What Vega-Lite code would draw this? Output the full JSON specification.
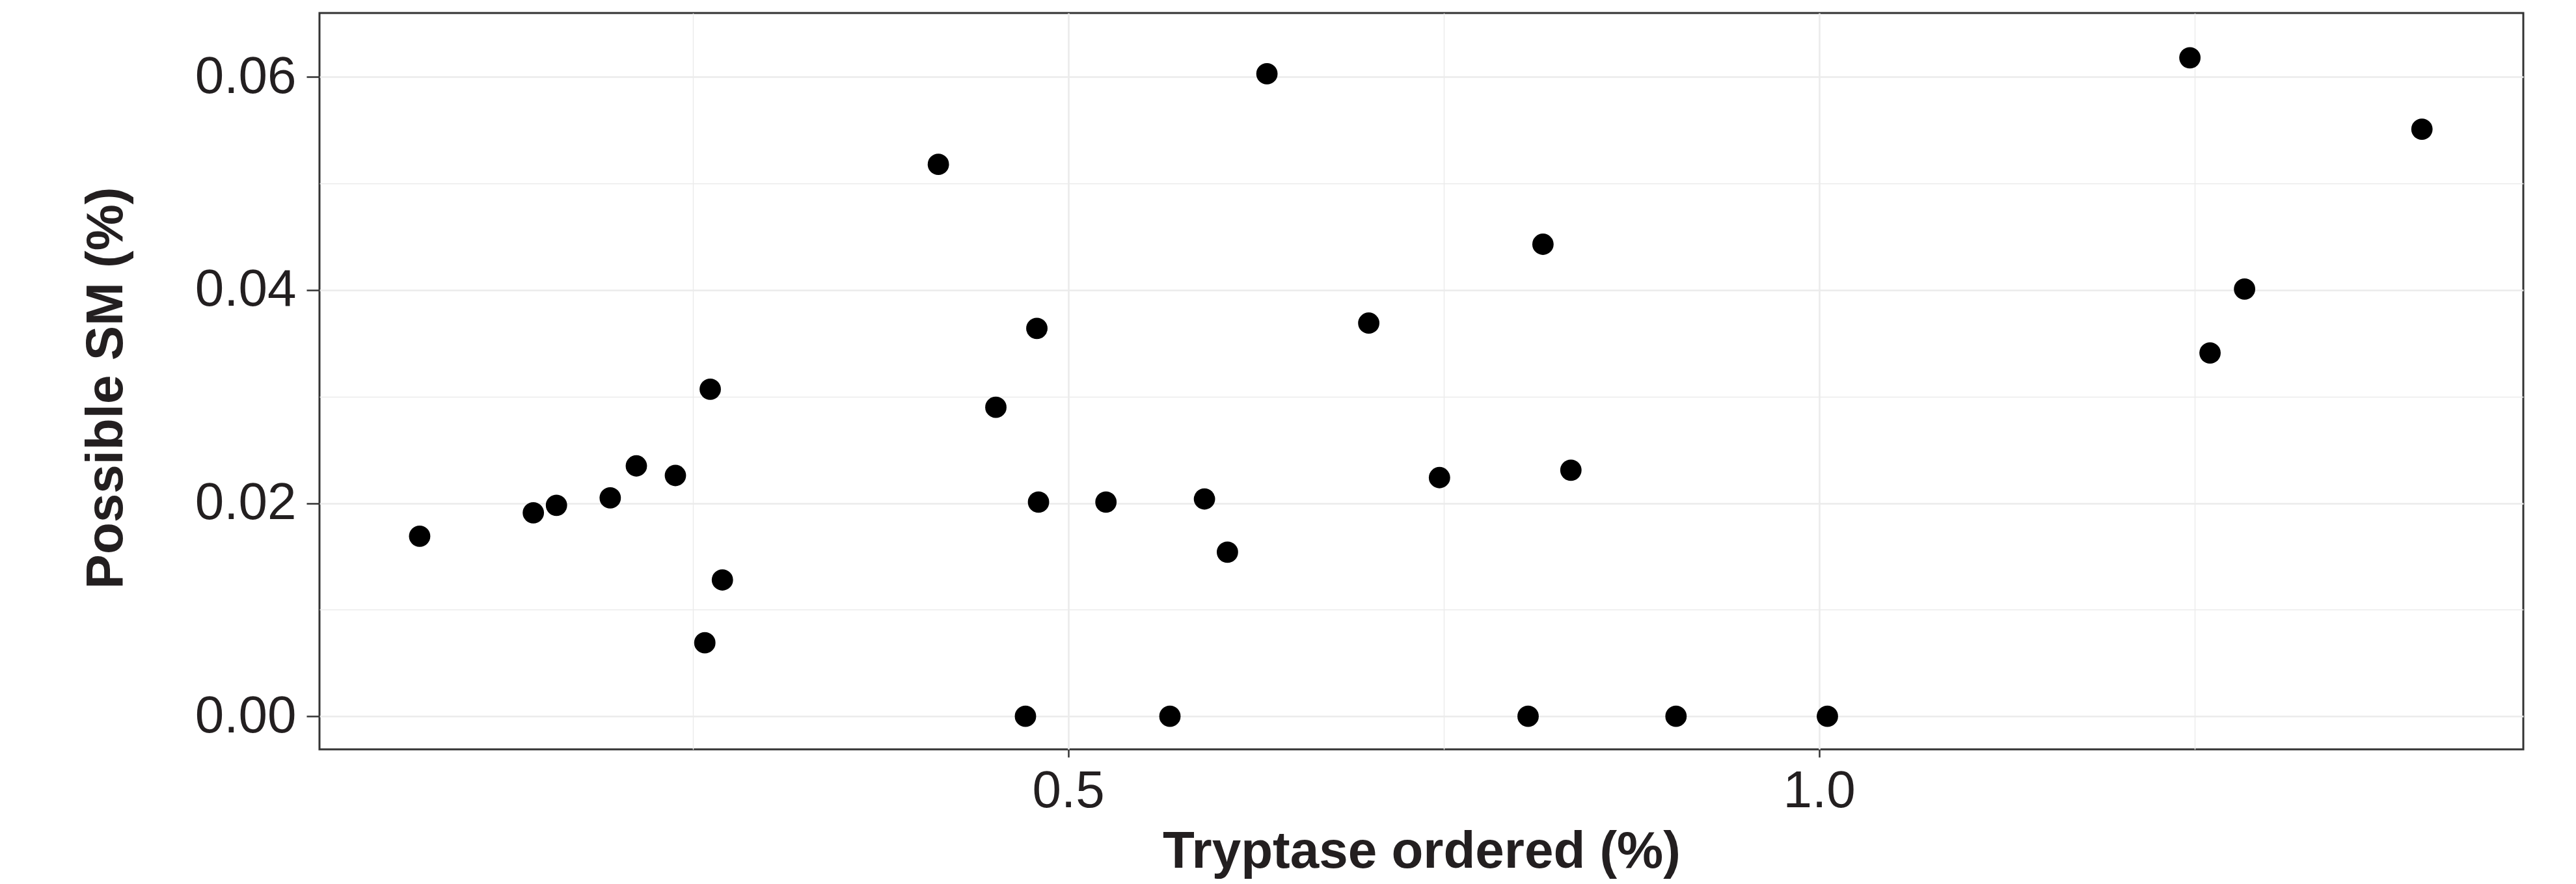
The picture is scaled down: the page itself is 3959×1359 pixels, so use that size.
{
  "$schema": "https://vega.github.io/schema/vega-lite/v6.json",
  "width": 3387,
  "height": 1132,
  "autosize": {"type": "none"},
  "padding": {"left": 491, "top": 20, "right": 81, "bottom": 207},
  "background": "white",
  "config": {
    "view": {"stroke": "#333333", "strokeWidth": 3},
    "font": "Liberation Sans"
  },
  "data": {
    "values": [
      {"tryptase": 0.0682, "sm": 0.0169},
      {"tryptase": 0.1439, "sm": 0.0191},
      {"tryptase": 0.1593, "sm": 0.0198},
      {"tryptase": 0.1951, "sm": 0.0205},
      {"tryptase": 0.2125, "sm": 0.0235},
      {"tryptase": 0.2385, "sm": 0.0226},
      {"tryptase": 0.2581, "sm": 0.0069},
      {"tryptase": 0.2617, "sm": 0.0307},
      {"tryptase": 0.2698, "sm": 0.0128},
      {"tryptase": 0.4136, "sm": 0.0518},
      {"tryptase": 0.4519, "sm": 0.0290},
      {"tryptase": 0.4716, "sm": 0.0},
      {"tryptase": 0.4792, "sm": 0.0364},
      {"tryptase": 0.4803, "sm": 0.0201},
      {"tryptase": 0.5252, "sm": 0.0201},
      {"tryptase": 0.5678, "sm": 0.0},
      {"tryptase": 0.5908, "sm": 0.0204},
      {"tryptase": 0.6061, "sm": 0.0154},
      {"tryptase": 0.6324, "sm": 0.0603},
      {"tryptase": 0.7002, "sm": 0.0369},
      {"tryptase": 0.7473, "sm": 0.0224},
      {"tryptase": 0.8063, "sm": 0.0},
      {"tryptase": 0.8162, "sm": 0.0443},
      {"tryptase": 0.8348, "sm": 0.0231},
      {"tryptase": 0.9048, "sm": 0.0},
      {"tryptase": 1.0056, "sm": 0.0},
      {"tryptase": 1.2470, "sm": 0.0618},
      {"tryptase": 1.2604, "sm": 0.0341},
      {"tryptase": 1.2834, "sm": 0.0401},
      {"tryptase": 1.4015, "sm": 0.0551}
    ]
  },
  "mark": {"type": "point", "filled": true, "color": "#000000", "opacity": 1, "size": 1075, "strokeWidth": 0},
  "encoding": {
    "x": {
      "field": "tryptase",
      "type": "quantitative",
      "scale": {"domain": [0.0015, 1.469], "nice": false, "zero": false},
      "axis": {
        "title": "Tryptase ordered (%)",
        "values": [0.25, 0.5, 0.75, 1.0, 1.25],
        "format": ".1f",
        "labelExpr": "abs(datum.value*2 - round(datum.value*2)) < 0.001 ? datum.label : ''",
        "domain": false,
        "grid": true,
        "gridColor": "#ebebeb",
        "gridWidth": {"condition": {"test": "abs(datum.value*2 - round(datum.value*2)) < 0.001", "value": 2.6}, "value": 1.4},
        "ticks": true,
        "tickSize": 12,
        "tickWidth": 2.5,
        "tickColor": "#333333",
        "tickOpacity": {"condition": {"test": "abs(datum.value*2 - round(datum.value*2)) < 0.001", "value": 1}, "value": 0},
        "labelFont": "Liberation Sans",
        "labelFontSize": 80,
        "labelColor": "#231f20",
        "labelPadding": 13,
        "labelFlush": false,
        "labelOverlap": false,
        "titleFont": "Liberation Sans",
        "titleFontSize": 80,
        "titleFontWeight": "bold",
        "titleColor": "#231f20",
        "titleBaseline": "alphabetic",
        "titleY": 181
      }
    },
    "y": {
      "field": "sm",
      "type": "quantitative",
      "scale": {"domain": [-0.0031, 0.066], "nice": false, "zero": false},
      "axis": {
        "title": "Possible SM (%)",
        "values": [0, 0.01, 0.02, 0.03, 0.04, 0.05, 0.06],
        "format": ".2f",
        "labelExpr": "abs(datum.value*50 - round(datum.value*50)) < 0.001 ? datum.label : ''",
        "domain": false,
        "grid": true,
        "gridColor": "#ebebeb",
        "gridWidth": {"condition": {"test": "abs(datum.value*50 - round(datum.value*50)) < 0.001", "value": 2.6}, "value": 1.4},
        "ticks": true,
        "tickSize": 20,
        "tickWidth": 2.5,
        "tickColor": "#333333",
        "tickOpacity": {"condition": {"test": "abs(datum.value*50 - round(datum.value*50)) < 0.001", "value": 1}, "value": 0},
        "labelFont": "Liberation Sans",
        "labelFontSize": 80,
        "labelColor": "#231f20",
        "labelPadding": 16,
        "labelFlush": false,
        "labelOverlap": false,
        "titleFont": "Liberation Sans",
        "titleFontSize": 80,
        "titleFontWeight": "bold",
        "titleColor": "#231f20",
        "titleBaseline": "alphabetic",
        "titleAngle": -90,
        "titleX": -304,
        "titleY": 576
      }
    }
  }
}
